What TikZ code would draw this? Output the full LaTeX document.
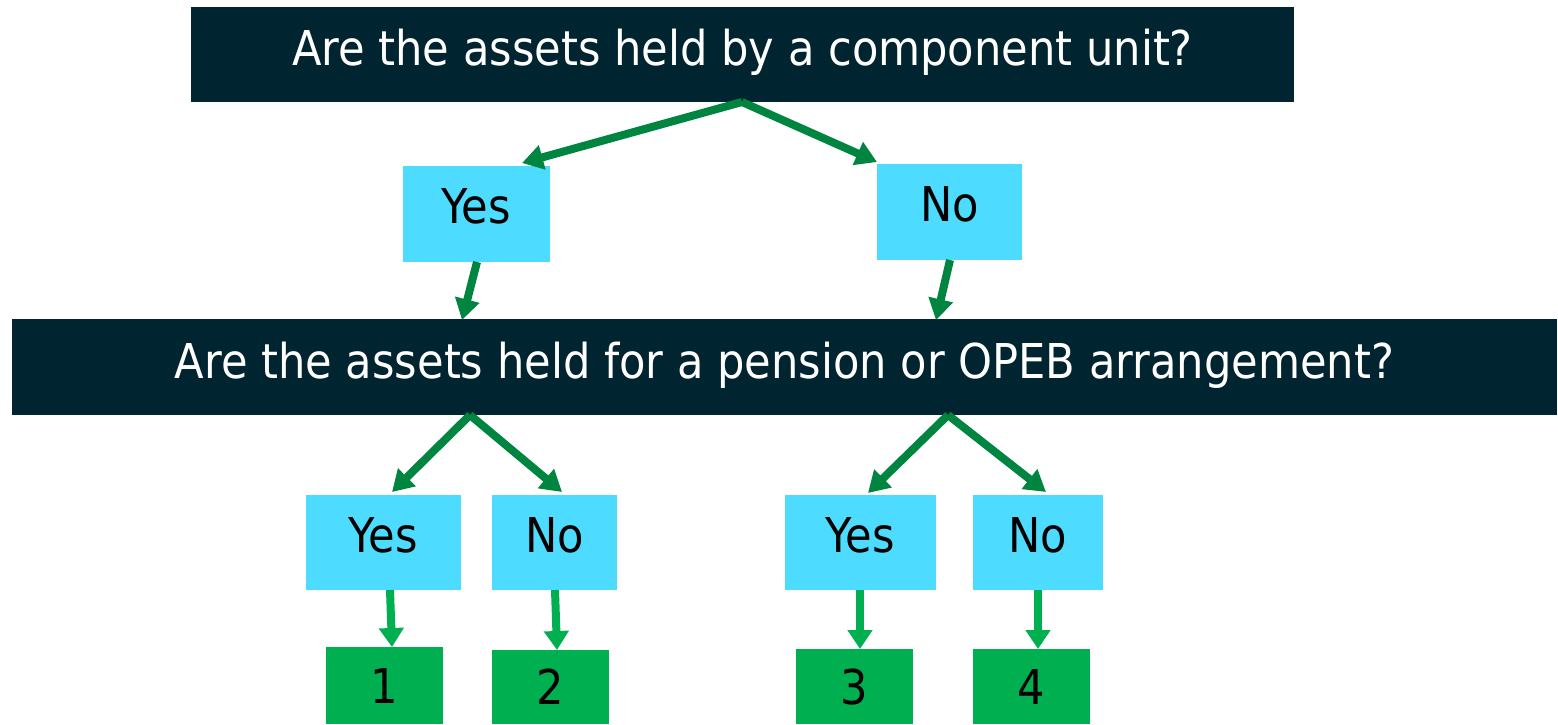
\documentclass[tikz,border=0pt]{standalone}
\usepackage{fontspec}
\setmainfont{DejaVu Sans Condensed}
\usetikzlibrary{arrows.meta}
\definecolor{darkbox}{HTML}{002430}
\definecolor{cyanbox}{HTML}{4DDBFF}
\definecolor{greenbox}{HTML}{00AF50}
\definecolor{darkarrow}{HTML}{008540}
\begin{document}
\begin{tikzpicture}[x=1pt,y=-1pt,
  every node/.style={inner sep=0pt,outer sep=0pt},
  txt/.style={font=\fontsize{48}{52}\selectfont},
  qbox/.style={txt,fill=darkbox,text=white,text height=35pt,text depth=13pt},
  abox/.style={txt,fill=cyanbox,text=black,text height=35pt,text depth=16pt},
  rbox/.style={txt,fill=greenbox,text=black,text height=35pt,text depth=0pt},
  arr/.style={line width=8pt,draw=darkarrow,-{Triangle[width=24pt,length=21pt]}},
  arrl/.style={line width=8pt,draw=greenbox,-{Triangle[width=24pt,length=19pt]}}]
\useasboundingbox (0,0) rectangle (1558,724);
% boxes
\node[qbox,minimum width=1103pt,minimum height=95pt] (q1) at (742.5,54.5) {Are the assets held by a component unit?};
\node[abox,minimum width=147pt,minimum height=96pt] (y1) at (476.5,214) {Yes};
\node[abox,minimum width=145pt,minimum height=96pt] (n1) at (949.5,212) {No};
\node[qbox,minimum width=1545pt,minimum height=96pt] (q2) at (784.5,367) {Are the assets held for a pension or OPEB arrangement?};
\node[abox,minimum width=155pt,minimum height=95pt] (y2) at (383.5,542.5) {Yes};
\node[abox,minimum width=125pt,minimum height=95pt] (n2) at (554.5,542.5) {No};
\node[abox,minimum width=151pt,minimum height=95pt] (y3) at (860.5,542.5) {Yes};
\node[abox,minimum width=130pt,minimum height=95pt] (n3) at (1038,542.5) {No};
\node[rbox,minimum width=117pt,minimum height=77pt] (r1) at (384.5,685.5) {1};
\node[rbox,minimum width=117pt,minimum height=74pt] (r2) at (550.5,687) {2};
\node[rbox,minimum width=117pt,minimum height=75pt] (r3) at (854.5,686.5) {3};
\node[rbox,minimum width=117pt,minimum height=75pt] (r4) at (1031.5,686.5) {4};
% connector anchor points
\coordinate (q1b) at (742,102);
\coordinate (y1t) at (522,163);
\coordinate (n1t) at (877,162);
\coordinate (y1b) at (477,262);
\coordinate (n1b) at (950,260);
\coordinate (q2l) at (462,320);
\coordinate (q2r) at (936,320);
\coordinate (q2bl) at (470,415);
\coordinate (q2br) at (948,415);
\coordinate (y2t) at (392,492);
\coordinate (n2t) at (562,492);
\coordinate (y3t) at (868,493);
\coordinate (n3t) at (1046,492);
\coordinate (y2b) at (390,590);
\coordinate (n2b) at (555,590);
\coordinate (y3b) at (860,590);
\coordinate (n3b) at (1038,590);
\coordinate (r1t) at (392,647);
\coordinate (r2t) at (557,650);
\coordinate (r3t) at (860,649);
\coordinate (r4t) at (1038,649);
\draw[arr] (q1b) -- (y1t);
\draw[arr] (q1b) -- (n1t);
\draw[arr] (y1b) -- (q2l);
\draw[arr] (n1b) -- (q2r);
\draw[arr] (q2bl) -- (y2t);
\draw[arr] (q2bl) -- (n2t);
\draw[arr] (q2br) -- (y3t);
\draw[arr] (q2br) -- (n3t);
\draw[arrl] (y2b) -- (r1t);
\draw[arrl] (n2b) -- (r2t);
\draw[arrl] (y3b) -- (r3t);
\draw[arrl] (n3b) -- (r4t);
\end{tikzpicture}
\end{document}
